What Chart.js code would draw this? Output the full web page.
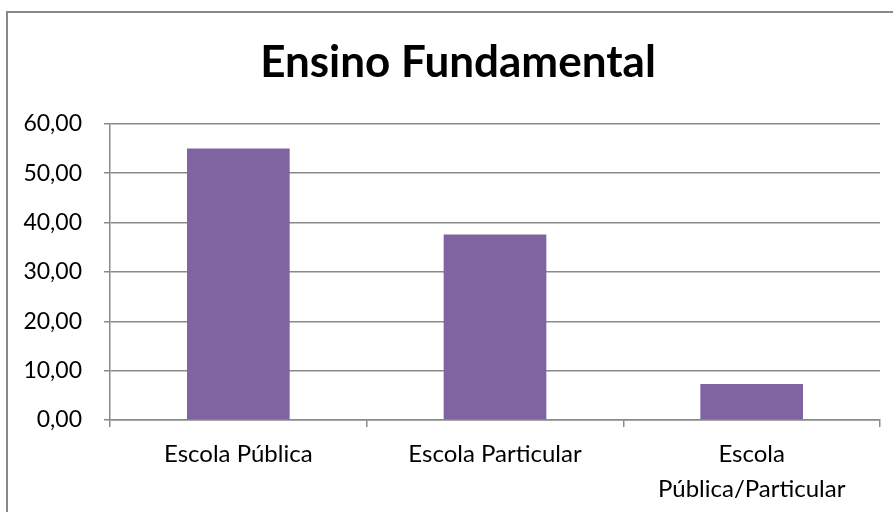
<!DOCTYPE html>
<html>
<head>
<meta charset="utf-8">
<script src="https://cdn.jsdelivr.net/npm/chart.js@4/dist/chart.umd.min.js"></script>
<style>
  body { margin: 0; background: #fff; overflow: hidden; }
  #frame { position: absolute; left: 6px; top: 11px; width: 1000px; height: 1000px;
           border-left: 2px solid #888; border-top: 2px solid #888; }
  #wrap { position: absolute; left: 0; top: 0; width: 916px; height: 512px; }
</style>
</head>
<body>
<div id="frame"></div>
<div id="wrap"><canvas id="chart" width="916" height="512"></canvas></div>
<script>
const categories = ['Escola Pública', 'Escola Particular', ['Escola', 'Pública/Particular']];
const values = [55.0, 37.6, 7.3];
const yTicks = [0, 10, 20, 30, 40, 50, 60];

const gridColor = '#8a8a8a';

new Chart(document.getElementById('chart').getContext('2d'), {
  type: 'bar',
  data: {
    labels: categories,
    datasets: [{
      label: 'Ensino Fundamental',
      data: values,
      backgroundColor: '#8064A2',
      borderWidth: 0,
      categoryPercentage: 1.0,
      barPercentage: 0.4
    }]
  },
  options: {
    responsive: false,
    animation: false,
    layout: { padding: 0 },
    plugins: {
      legend: { display: false },
      tooltip: { enabled: false },
      title: {
        display: true,
        text: 'Ensino Fundamental',
        color: '#000',
        font: { family: 'Lato', weight: 'bold', size: 44, lineHeight: 1.2 },
        padding: { top: 36, bottom: 35 }
      }
    },
    scales: {
      x: {
        grid: { drawOnChartArea: false, color: gridColor, lineWidth: 1.5, tickLength: 7 },
        border: { color: gridColor, width: 1.5 },
        ticks: {
          color: '#000',
          font: { family: 'Lato', size: 24, lineHeight: 1.45 },
          padding: 10,
          maxRotation: 0,
          autoSkip: false
        },
        afterFit: (scale) => { scale.height = 92; }
      },
      y: {
        min: 0,
        max: 60,
        afterBuildTicks: (scale) => { scale.ticks = yTicks.map(v => ({ value: v })); },
        grid: { color: gridColor, lineWidth: 1.5, tickLength: 6 },
        border: { color: gridColor, width: 1.5 },
        ticks: {
          color: '#000',
          font: { family: 'Lato', size: 23 },
          padding: 22,
          callback: (v) => v.toFixed(2).replace('.', ',')
        },
        afterFit: (scale) => { scale.width = 110; }
      },
      // empty right-hand axis, only keeps the plot area narrower than the title band
      yRight: {
        position: 'right',
        display: true,
        grid: { drawOnChartArea: false, drawTicks: false },
        border: { display: false },
        ticks: { display: false },
        afterFit: (scale) => { scale.width = 36; }
      }
    }
  }
});
</script>
</body>
</html>
